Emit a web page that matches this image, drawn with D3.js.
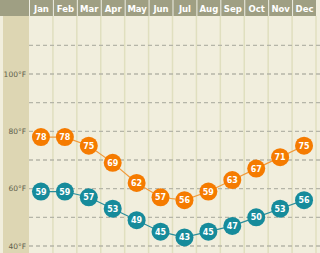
<!DOCTYPE html>
<html>
<head>
<meta charset="utf-8">
<script src="https://cdn.jsdelivr.net/npm/d3@7"></script>
<style>
  body { margin: 0; background: #f1eedd; }
  svg { display: block; font-family: "DejaVu Sans", Verdana, sans-serif; }
</style>
</head>
<body>
<div id="chart"></div>
<script>
// Monthly average temperatures (°F)
const months = ["Jan", "Feb", "Mar", "Apr", "May", "Jun", "Jul", "Aug", "Sep", "Oct", "Nov", "Dec"];
const highs = [78, 78, 75, 69, 62, 57, 56, 59, 63, 67, 71, 75];
const lows = [59, 59, 57, 53, 49, 45, 43, 45, 47, 50, 53, 56];
const gridTemps = [40, 50, 60, 70, 80, 90, 100, 110];
const labelTemps = [40, 60, 80, 100];

const width = 320, height = 253;
const headerH = 16;
const plotLeft = 29, plotRight = 316;

const svg = d3.select("#chart").append("svg")
  .attr("width", width)
  .attr("height", height);

const x = d3.scaleBand().domain(months).range([plotLeft, plotRight]);
const y = d3.scaleLinear().domain([40, 100]).range([246, 74]);

// backgrounds
svg.append("rect").attr("width", width).attr("height", height).attr("fill", "#f1eedd");
svg.append("rect")
  .attr("x", 3).attr("y", headerH).attr("width", plotLeft - 3).attr("height", height - headerH)
  .attr("fill", "#ddd6b3");

// column separators
svg.selectAll(".col")
  .data(months)
  .enter().append("line")
  .attr("x1", d => x(d) + x.bandwidth())
  .attr("x2", d => x(d) + x.bandwidth())
  .attr("y1", headerH).attr("y2", height)
  .attr("stroke", "#e0dfbf")
  .attr("stroke-width", 1.5);

// header
svg.append("rect")
  .attr("x", 0).attr("y", 0).attr("width", plotRight).attr("height", headerH)
  .attr("fill", "#9f9f83");
svg.selectAll(".hsep")
  .data(months)
  .enter().append("line")
  .attr("x1", d => x(d) + 0.5)
  .attr("x2", d => x(d) + 0.5)
  .attr("y1", 0).attr("y2", headerH)
  .attr("stroke", "#eeeee4")
  .attr("stroke-width", 1);
svg.selectAll(".month")
  .data(months)
  .enter().append("text")
  .attr("x", d => x(d) + x.bandwidth() / 2 + 0.5)
  .attr("y", headerH / 2 + 0.5)
  .attr("text-anchor", "middle")
  .attr("dominant-baseline", "central")
  .attr("fill", "#ffffff")
  .attr("font-size", 8.5)
  .attr("font-weight", "bold")
  .text(d => d);

// dashed gridlines
svg.selectAll(".grid")
  .data(gridTemps)
  .enter().append("line")
  .attr("x1", plotLeft).attr("x2", width)
  .attr("y1", d => y(d)).attr("y2", d => y(d))
  .attr("stroke", "#b5b5a8")
  .attr("stroke-width", 1.3)
  .attr("stroke-dasharray", "4,3");

// y labels
svg.selectAll(".ylab")
  .data(labelTemps)
  .enter().append("text")
  .attr("x", 26)
  .attr("y", d => y(d))
  .attr("text-anchor", "end")
  .attr("dominant-baseline", "central")
  .attr("fill", "#5f5f4c")
  .attr("font-size", 7.5)
  .text(d => d + "°F");

function drawSeries(values, color, lineColor) {
  const line = d3.line()
    .x((d, i) => x(months[i]) + x.bandwidth() / 2)
    .y(d => y(d));
  svg.append("path")
    .datum(values)
    .attr("d", line)
    .attr("fill", "none")
    .attr("stroke", lineColor)
    .attr("stroke-width", 1.2);
  const g = svg.append("g");
  g.selectAll("circle")
    .data(values)
    .enter().append("circle")
    .attr("cx", (d, i) => x(months[i]) + x.bandwidth() / 2)
    .attr("cy", d => y(d))
    .attr("r", 9)
    .attr("fill", color);
  g.selectAll("text")
    .data(values)
    .enter().append("text")
    .attr("x", (d, i) => x(months[i]) + x.bandwidth() / 2)
    .attr("y", d => y(d) + 0.5)
    .attr("text-anchor", "middle")
    .attr("dominant-baseline", "central")
    .attr("fill", "#ffffff")
    .attr("font-size", 8)
    .attr("font-weight", "bold")
    .text(d => d);
}

drawSeries(highs, "#f57b00", "#f29a3a");
drawSeries(lows, "#168b9b", "#2a8d9b");
</script>
</body>
</html>
